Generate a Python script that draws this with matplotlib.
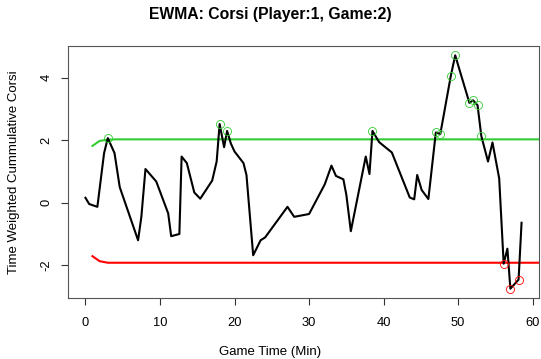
import matplotlib
matplotlib.use("Agg")
import matplotlib.pyplot as plt
import numpy as np

plt.rcParams['font.family'] = ['Liberation Sans', 'DejaVu Sans']

# Observed EWMA series
times = [0.0, 0.5, 1.6, 2.5, 3.0, 3.9, 4.6, 7.06, 7.5, 8.05, 9.5, 11.1, 11.5, 12.6,
         12.9, 13.6, 14.6, 15.4, 17.0, 17.6, 18.0, 18.6, 19.0, 19.5, 20.0, 21.2, 21.6,
         22.5, 23.5, 24.1, 27.1, 28.0, 30.0, 32.1, 33.0, 33.6, 34.6, 35.0, 35.6, 37.6,
         38.1, 38.5, 39.4, 41.1, 43.5, 44.1, 44.5, 45.1, 46.0, 47.0, 47.6, 49.0, 49.6,
         51.5, 52.0, 52.6, 53.1, 54.0, 54.6, 55.5, 56.1, 56.6, 57.0, 58.1, 58.5]
values = [0.16, -0.04, -0.13, 1.59, 2.07, 1.59, 0.50, -1.20, -0.45, 1.08, 0.68, -0.34,
          -1.07, -1.00, 1.48, 1.27, 0.33, 0.13, 0.71, 1.32, 2.52, 1.78, 2.30, 1.90, 1.64,
          1.27, 0.89, -1.68, -1.20, -1.11, -0.13, -0.45, -0.36, 0.59, 1.19, 0.86, 0.75,
          0.25, -0.91, 1.48, 0.92, 2.30, 1.94, 1.61, 0.17, 0.11, 0.89, 0.41, 0.12, 2.25,
          2.20, 4.05, 4.72, 3.20, 3.28, 3.12, 2.14, 1.32, 1.93, 0.78, -1.95, -1.47, -2.75,
          -2.46, -0.64]

# Control limits
limit_times = [0.94, 1.9, 3.0, 4.0, 61.5]
ucl = [1.82, 1.98, 2.02, 2.03, 2.03]
lcl = [-1.71, -1.87, -1.92, -1.92, -1.92]

title = "EWMA: Corsi (Player:1, Game:2)"
xlabel = "Game Time (Min)"
ylabel = "Time Weighted Cummulative Corsi"
xticks = [0, 10, 20, 30, 40, 50, 60]
yticks = [-2, 0, 2, 4]

GREEN = "#32CD32"
RED = "#FF0000"

fig = plt.figure(figsize=(5.41, 3.59), dpi=100)
ax = fig.add_axes([68/541, 1-298/359, (539-68)/541, (298-46)/359])

t = np.array(times)
v = np.array(values)
u = np.interp(t, limit_times, ucl)
l = np.interp(t, limit_times, lcl)

ax.plot(t, v, color="black", lw=1.5, solid_joinstyle='round', zorder=3)
ax.plot(limit_times, ucl, color=GREEN, lw=1.5, zorder=2)
ax.plot(limit_times, lcl, color=RED, lw=1.5, zorder=2)
hi = v > u
lo = v < l
ax.plot(t[hi], v[hi], 'o', mfc='none', mec=GREEN, ms=5.8, mew=0.6, zorder=4)
ax.plot(t[lo], v[lo], 'o', mfc='none', mec=RED, ms=5.8, mew=0.6, zorder=4)

xr = t.max() - t.min()
ax.set_xlim(t.min() - 0.04*xr, t.max() + 0.04*xr)
yr = v.max() - v.min()
ax.set_ylim(v.min() - 0.04*yr, v.max() + 0.04*yr)

ax.set_xticks(xticks)
ax.set_yticks(yticks)
ax.set_yticklabels([str(y) for y in yticks], rotation=90, va='center')
ax.tick_params(axis='both', direction='out', length=5, width=0.8, labelsize=9.3, colors='#333333',
               labelcolor='black')
ax.tick_params(axis='x', pad=9)
ax.tick_params(axis='y', pad=6)
for s in ax.spines.values():
    s.set_color('#555555')
    s.set_linewidth(0.8)

fig.text(0.5, 1-15/359, title, ha='center', va='center', fontsize=11.3, fontweight='bold')
fig.text(0.5, 1-352/359, xlabel, ha='center', va='center', fontsize=9.5)
fig.text(14/541, 1-172/359, ylabel, ha='center', va='center', rotation=90, fontsize=9.5)

fig.savefig("out.png", dpi=100)
